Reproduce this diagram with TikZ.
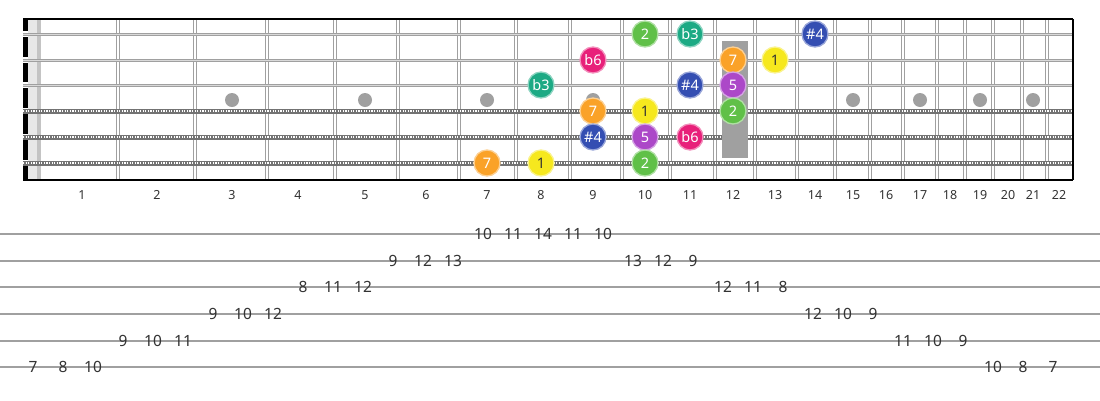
\documentclass[tikz,border=0pt]{standalone}
\usepackage{fontspec}
\setmainfont{Noto Sans}
\definecolor{cone}{RGB}{246,232,30}
\definecolor{ctwo}{RGB}{96,192,72}
\definecolor{cthree}{RGB}{28,170,132}
\definecolor{cfour}{RGB}{52,78,178}
\definecolor{cfive}{RGB}{172,72,200}
\definecolor{csix}{RGB}{232,32,122}
\definecolor{cseven}{RGB}{250,162,40}
\definecolor{fretc}{RGB}{160,160,160}
\definecolor{stripc}{RGB}{232,232,232}
\definecolor{stripd}{RGB}{196,196,196}
\definecolor{dotc}{RGB}{160,160,160}
\definecolor{rectc}{RGB}{160,160,160}
\definecolor{tabline}{RGB}{160,160,160}
\definecolor{txt}{RGB}{51,51,51}
\tikzset{
  note/.style={circle, minimum size=26pt, inner sep=0pt, fill=#1, draw=#1!50!white,
    line width=1.3pt, text=white, font=\fontsize{14.5}{14.5}\selectfont},
  fretlbl/.style={text=txt, font=\fontsize{12.5}{12.5}\selectfont, inner sep=0pt},
  tabnum/.style={text=txt, font=\fontsize{15.5}{15.5}\selectfont, inner sep=0pt},
  plainstr/.style={line width=3pt, color=fretc},
  woundstr/.style={line width=5pt, color=black!55},
  tabstr/.style={line width=1.8pt, color=tabline}
}
\begin{document}
\begin{tikzpicture}[x=1pt,y=-1pt]
\useasboundingbox (0,0) rectangle (1100,400);
\fill[white] (0,0) rectangle (1100,400);
% light strip next to nut
\fill[stripc] (28,19) rectangle (37,180);
\fill[stripd] (37,19) rectangle (41,180);
% fret wires
\foreach \x in {118,195,267,335,398,459,516,570,622,670,715,755,797,835,870,903,937,965,993,1022,1047} {
  \draw[line width=4pt, color=fretc] (\x,19) -- (\x,180);
  \draw[line width=1.2pt, color=white] (\x,19) -- (\x,180);
}
% inlay dots
\foreach \x in {232,365,487,593,853,920,980,1033} {
  \fill[dotc] (\x,100) circle (7);
}
% nut
\fill[black] (23,19) rectangle (28,180);
\foreach \y in {34,60,85,111,137,163} {
  \fill[white] (23,\y-3) rectangle (28,\y+3);
}
% plain strings
\foreach \y in {34,60,85} {
  \draw[plainstr] (23,\y) -- (1073,\y);
  \draw[line width=0.8pt, color=black!15] (23,\y) -- (1073,\y);
}
% wound strings
\foreach \y in {111,137,163} {
  \draw[woundstr] (23,\y) -- (1073,\y);
  \draw[line width=2.2pt, color=white, dash pattern=on 1.1pt off 1.5pt] (23,\y) -- (1073,\y);
}
% 12th fret marker
\fill[rectc] (722,41) rectangle (748,158);
% borders
\draw[black, line width=1.6pt] (23,19) -- (1073,19);
\draw[black, line width=1.6pt] (23,180) -- (1073,180);
\draw[black, line width=1.2pt] (1073,19) -- (1073,180);
% fret numbers
\foreach \n/\x in {1/82,2/157,3/232,4/298,5/365,6/426,7/487,8/541,9/593,10/645,11/690,12/733,13/775,14/815,15/853,16/886,17/920,18/950,19/980,20/1008,21/1033,22/1059} {
  \node[fretlbl] (fl\n) at (\x,195) {\n};
}
% notes
% string 1
\node[note=ctwo] (n1a) at (645,34) {2};
\node[note=cthree] (n1b) at (690,34) {b3};
\node[note=cfour] (n1c) at (815,34) {\#4};
% string 2
\node[note=csix] (n2a) at (593,60) {b6};
\node[note=cseven] (n2b) at (733,60) {7};
\node[note=cone, text=txt] (n2c) at (775,60) {1};
% string 3
\node[note=cthree] (n3a) at (541,85) {b3};
\node[note=cfour] (n3b) at (690,85) {\#4};
\node[note=cfive] (n3c) at (733,85) {5};
% string 4
\node[note=cseven] (n4a) at (593,111) {7};
\node[note=cone, text=txt] (n4b) at (645,111) {1};
\node[note=ctwo] (n4c) at (733,111) {2};
% string 5
\node[note=cfour] (n5a) at (593,137) {\#4};
\node[note=cfive] (n5b) at (645,137) {5};
\node[note=csix] (n5c) at (690,137) {b6};
% string 6
\node[note=cseven] (n6a) at (487,163) {7};
\node[note=cone, text=txt] (n6b) at (541,163) {1};
\node[note=ctwo] (n6c) at (645,163) {2};
% tab lines
\foreach \y in {234,261,287,314,341,367} {
  \draw[tabstr] (0,\y) -- (1100,\y);
}
% tab numbers: k/line y/value
\foreach \k/\y/\v in {0/367/7,1/367/8,2/367/10,
  3/341/9,4/341/10,5/341/11,
  6/314/9,7/314/10,8/314/12,
  9/287/8,10/287/11,11/287/12,
  12/261/9,13/261/12,14/261/13,
  15/234/10,16/234/11,17/234/14,18/234/11,19/234/10,
  20/261/13,21/261/12,22/261/9,
  23/287/12,24/287/11,25/287/8,
  26/314/12,27/314/10,28/314/9,
  29/341/11,30/341/10,31/341/9,
  32/367/10,33/367/8,34/367/7} {
  \node[tabnum] (t\k) at ({33+30*\k},\y) {\v};
}
\end{tikzpicture}
\end{document}
